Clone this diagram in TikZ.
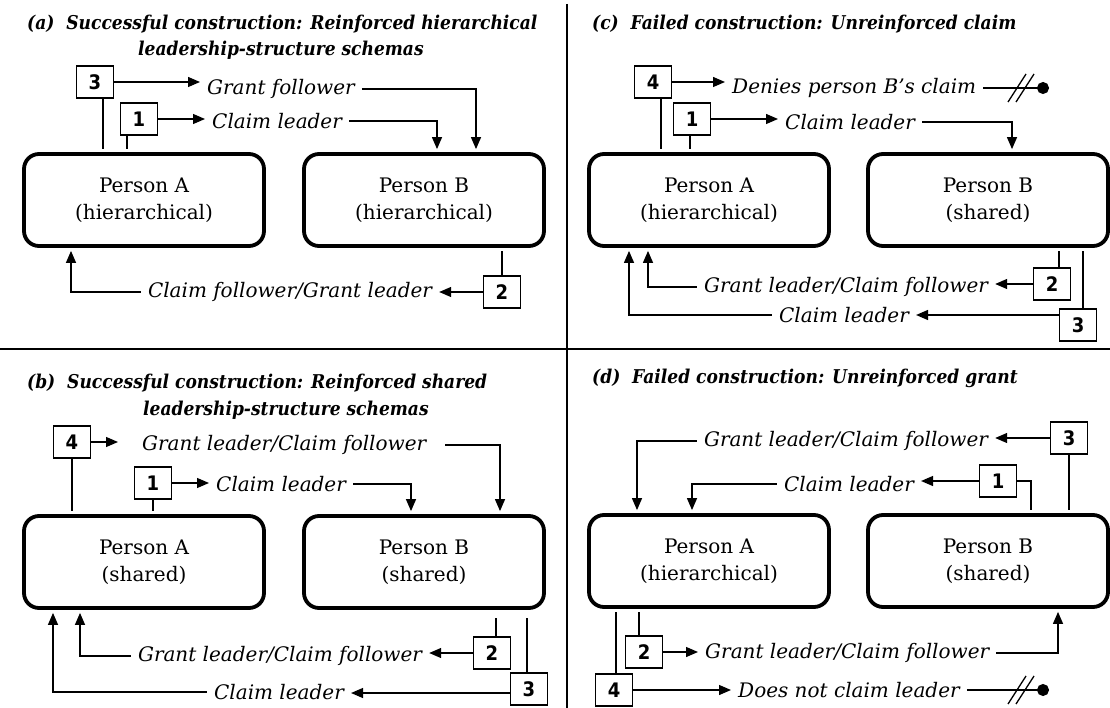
\documentclass[tikz,border=0pt]{standalone}
\usepackage{fontspec}
\setmainfont{DejaVu Serif}
\newfontfamily\headfont{DejaVu Serif Condensed Bold Italic}
\newfontfamily\numfont{DejaVu Sans Condensed Bold}
\usetikzlibrary{arrows.meta}

\tikzset{
  person/.style={draw, line width=3.8pt, rounded corners=15pt, minimum width=240pt,
    minimum height=92pt, align=center, inner sep=0pt, font=\fontsize{20}{27}\selectfont},
  numbox/.style={draw, line width=1.3pt, minimum width=37pt, minimum height=32pt,
    inner sep=0pt, font=\numfont\fontsize{20}{20}\selectfont},
  act/.style={font=\itshape\fontsize{20}{24}\selectfont, inner xsep=7pt, inner ysep=2pt},
  head/.style={anchor=west, inner sep=0pt, font=\headfont\fontsize{19}{23}\selectfont},
  link/.style={line width=1.3pt},
  flow/.style={link, -{Triangle[length=12pt, width=10pt]}},
  into/.style={flow, shorten >=3pt},
  tie/.style={link, shorten >=3pt},
  blocked/.style={link, -{Circle[length=12pt]}},
  divider/.style={line width=1.8pt},
  pics/cutmark/.style={code={
    \draw[link] (-13,14) -- (5,-14);
    \draw[link] (-5,14) -- (13,-14);}}
}

\begin{document}
\begin{tikzpicture}[x=1pt, y=-1pt]
    \useasboundingbox (0,0) rectangle (1110,708);
    \fill[white] (0,0) rectangle (1110,708);

    % (a) reinforced hierarchical
    \node[head] (atitle) at (27,24) {(a)\ \ Successful construction: Reinforced hierarchical};
    \node[head] (atitle2) at (138,50) {leadership-structure schemas};
    \node[numbox] (a3) at (95,82) {3};
    \node[numbox] (a1) at (139,119) {1};
    \node[act, anchor=west] (agf) at (200,89) {Grant follower};
    \node[act, anchor=west] (acl) at (205,121) {Claim leader};
    \node[person] (aA) at (144,200) {Person A\\(hierarchical)};
    \node[person] (aB) at (424,200) {Person B\\(hierarchical)};
    \node[act] (acf) at (290,292) {Claim follower/Grant leader};
    \node[numbox] (a2) at (502,292) {2};

    \draw[flow] (a3.east) -- (a3.east -| agf.west);
    \draw[flow] (a1.east) -- (a1.east -| acl.west);
    \draw[into] (agf.east) -| ([xshift=52pt]aB.north);
    \draw[into] (acl.east) -| ([xshift=13pt]aB.north);
    \draw[tie] ([xshift=8pt]a3.south) -- ([xshift=8pt]a3.south |- aA.north);
    \draw[tie] ([xshift=-12pt]a1.south) -- ([xshift=-12pt]a1.south |- aA.north);
    \draw[tie] (a2.north) -- (a2.north |- aB.south);
    \draw[flow] (a2.west) -- (a2.west -| acf.east);
    \draw[into] (acf.west) -| ([xshift=-73pt]aA.south);

    % (c) unreinforced claim
    \node[head] (ctitle) at (592,24) {(c)\ \ Failed construction: Unreinforced claim};
    \node[numbox] (c4) at (653,82) {4};
    \node[numbox] (c1) at (692,119) {1};
    \node[act, anchor=west] (cdn) at (725,88) {Denies person B’s claim};
    \node[act, anchor=west] (ccl) at (778,122) {Claim leader};
    \coordinate (cstop) at (1049,88);
    \coordinate (ccut) at (1021,88);
    \node[person] (cA) at (709,200) {Person A\\(hierarchical)};
    \node[person] (cB) at (988,200) {Person B\\(shared)};
    \node[act] (cgl) at (846,287) {Grant leader/Claim follower};
    \node[act] (ccl2) at (844,315) {Claim leader};
    \node[numbox] (c2) at (1052,284) {2};
    \node[numbox] (c3) at (1078,325) {3};

    \draw[flow] (c4.east) -- (c4.east -| cdn.west);
    \draw[flow] (c1.east) -- (c1.east -| ccl.west);
    \draw[blocked] (cdn.east) -- (cstop);
    \pic at (ccut) {cutmark};
    \draw[into] (ccl.east) -| ([xshift=24pt]cB.north);
    \draw[tie] ([xshift=8pt]c4.south) -- ([xshift=8pt]c4.south |- cA.north);
    \draw[tie] ([xshift=-2pt]c1.south) -- ([xshift=-2pt]c1.south |- cA.north);
    \draw[tie] ([xshift=7pt]c2.north) -- ([xshift=7pt]c2.north |- cB.south);
    \draw[tie] ([xshift=5pt]c3.north) -- ([xshift=5pt]c3.north |- cB.south);
    \draw[flow] (c2.west) -- (c2.west -| cgl.east);
    \draw[flow] ([yshift=10pt]c3.west) -- ([yshift=10pt]c3.west -| ccl2.east);
    \draw[into] (cgl.west) -| ([xshift=-61pt]cA.south);
    \draw[into] (ccl2.west) -| ([xshift=-80pt]cA.south);

    % (b) reinforced shared
    \node[head] (btitle) at (27,383) {(b)\ \ Successful construction: Reinforced shared};
    \node[head] (btitle2) at (143,410) {leadership-structure schemas};
    \node[numbox] (b4) at (72,442) {4};
    \node[numbox] (b1) at (153,483) {1};
    \node[act, anchor=west] (bgl) at (135,445) {Grant leader/Claim follower};
    \node[act, anchor=west] (bcl) at (209,484) {Claim leader};
    \node[person] (bA) at (144,562) {Person A\\(shared)};
    \node[person] (bB) at (424,562) {Person B\\(shared)};
    \node[act] (bgl2) at (280,656) {Grant leader/Claim follower};
    \node[act] (bcl2) at (279,692) {Claim leader};
    \node[numbox] (b2) at (492,653) {2};
    \node[numbox] (b3) at (529,689) {3};

    \draw[flow, shorten >=17pt] (b4.east) -- (b4.east -| bgl.west);
    \draw[into, shorten <=12pt] (bgl.east) -| ([xshift=76pt]bB.north);
    \draw[flow] (b1.east) -- (b1.east -| bcl.west);
    \draw[into] (bcl.east) -| ([xshift=-13pt]bB.north);
    \draw[tie] (b4.south) -- (b4.south |- bA.north);
    \draw[tie] (b1.south) -- (b1.south |- bA.north);
    \draw[tie, shorten >=8pt] ([xshift=4pt]b2.north) -- ([xshift=4pt]b2.north |- bB.south);
    \draw[tie, shorten >=8pt] ([xshift=-2pt]b3.north) -- ([xshift=-2pt]b3.north |- bB.south);
    \draw[flow] (b2.west) -- (b2.west -| bgl2.east);
    \draw[flow] ([yshift=-4pt]b3.west) -- ([yshift=-4pt]b3.west -| bcl2.east);
    \draw[into] (bgl2.west) -| ([xshift=-64pt]bA.south);
    \draw[into] (bcl2.west) -| ([xshift=-91pt]bA.south);

    % (d) unreinforced grant
    \node[head] (dtitle) at (592,378) {(d)\ \ Failed construction: Unreinforced grant};
    \node[numbox] (d3) at (1069,438) {3};
    \node[numbox] (d1) at (998,481) {1};
    \node[act] (dgl) at (846,441) {Grant leader/Claim follower};
    \node[act] (dcl) at (849,484) {Claim leader};
    \node[person] (dA) at (709,561) {Person A\\(hierarchical)};
    \node[person] (dB) at (988,561) {Person B\\(shared)};
    \node[numbox] (d2) at (644,652) {2};
    \node[numbox] (d4) at (614,690) {4};
    \node[act, anchor=west] (dgl2) at (698,653) {Grant leader/Claim follower};
    \node[act, anchor=west] (dno) at (731,690) {Does not claim leader};
    \coordinate (dstop) at (1049,690);
    \coordinate (dcut) at (1021,690);

    \draw[flow] (d3.west) -- (d3.west -| dgl.east);
    \draw[flow] (d1.west) -- (d1.west -| dcl.east);
    \draw[into] (dgl.west) -| ([xshift=-72pt]dA.north);
    \draw[into] (dcl.west) -| ([xshift=-17pt]dA.north);
    \draw[tie] (d1.east) -| ([xshift=43pt]dB.north);
    \draw[tie] (d3.south) -- (d3.south |- dB.north);
    \draw[tie] ([xshift=-5pt]d2.north) -- ([xshift=-5pt]d2.north |- dA.south);
    \draw[tie] ([xshift=2pt]d4.north) -- ([xshift=2pt]d4.north |- dA.south);
    \draw[flow] (d2.east) -- (d2.east -| dgl2.west);
    \draw[into] (dgl2.east) -| ([xshift=70pt]dB.south);
    \draw[flow] (d4.east) -- (d4.east -| dno.west);
    \draw[blocked] (dno.east) -- (dstop);
    \pic at (dcut) {cutmark};

    % panel rules
    \draw[divider] (0,349) -- (1110,349);
    \draw[divider] (567,4) -- (567,708);
\end{tikzpicture}
\end{document}
